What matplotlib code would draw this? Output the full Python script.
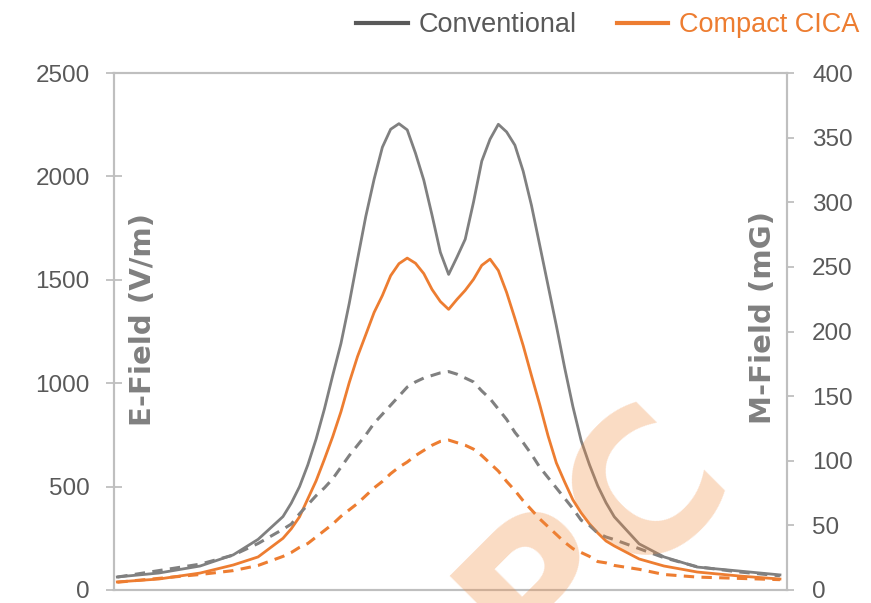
import matplotlib.pyplot as plt
from matplotlib.lines import Line2D

# distance along the profile (m), no labels shown on the x axis
dist = [-40, -35, -30, -26, -23] + list(range(-20, 21)) + [23, 26, 30, 35, 40]

# E-field (V/m), left axis
e_conventional = [63, 82, 116, 170, 245,
                  355, 420, 500, 605, 730, 875, 1037, 1192, 1386, 1599,
                  1807, 1986, 2141, 2228, 2255, 2225, 2112, 1982, 1812, 1633,
                  1526,
                  1609, 1696, 1875, 2074, 2180, 2252, 2215, 2151, 2025, 1860,
                  1667, 1473, 1279, 1076, 887, 722, 606, 504, 422, 354,
                  223, 160, 111, 92, 73]
e_compact = [39, 53, 82, 121, 160,
             250, 296, 354, 441, 528, 632, 741, 862, 1003, 1129,
             1235, 1342, 1424, 1520, 1578, 1605, 1580, 1530, 1453, 1395,
             1357,
             1405, 1449, 1502, 1570, 1600, 1545, 1439, 1313, 1182, 1037,
             896, 746, 615, 523, 436, 373, 320, 276, 237, 213,
             150, 116, 87, 68, 53]

# M-field (mG), right axis
m_conventional = [10, 15, 20, 27, 36,
                  47, 51, 59, 66, 73, 79, 86, 95, 104, 112,
                  120, 129, 136, 143, 150, 157, 161, 164, 166, 168,
                  169,
                  167, 164, 161, 154, 148, 140, 132, 122, 114, 105,
                  95, 87, 79, 71, 63, 54, 50, 44, 41, 39,
                  32, 25, 18, 14, 11]
m_compact = [6, 9, 12, 15, 19,
             26, 29, 33, 36, 41, 46, 51, 57, 62, 67,
             73, 79, 84, 90, 95, 99, 104, 108, 112, 115,
             116,
             114, 112, 109, 104, 98, 92, 84, 77, 69, 62,
             55, 49, 43, 37, 32, 29, 26, 22, 21, 19,
             16, 12, 10, 9, 8]

e_ticks = [0, 500, 1000, 1500, 2000, 2500]
m_ticks = [0, 50, 100, 150, 200, 250, 300, 350, 400]
series_names = ['Conventional', 'Compact CICA']

GRAY = '#808080'
DARK = '#595959'
ORANGE = '#ED7D31'
SPINE = '#BFBFBF'
num_font = ['Liberation Sans', 'DejaVu Sans']

fig = plt.figure(figsize=(8.71, 6.03), dpi=100)
ax = fig.add_axes([114 / 871, 1 - 590 / 603, (787 - 114) / 871, (590 - 73) / 603])
ax2 = ax.twinx()

ax.plot(dist, e_conventional, color=GRAY, lw=2.0)
ax.plot(dist, e_compact, color=ORANGE, lw=2.0)
ax2.plot(dist, m_conventional, color=GRAY, lw=2.2, dashes=(3.4, 2.4))
ax2.plot(dist, m_compact, color=ORANGE, lw=2.2, dashes=(3.4, 2.4))

ax.set_xlim(-40.4, 40.85)
ax.set_ylim(0, 2500)
ax2.set_ylim(0, 400)
ax.set_yticks(e_ticks)
ax2.set_yticks(m_ticks)
ax.set_xticks([])

for a in (ax, ax2):
    for s in a.spines.values():
        s.set_color(SPINE)
        s.set_linewidth(1.5)

ax.tick_params(axis='y', direction='inout', length=11, width=1.3, color=SPINE,
               labelcolor=DARK, labelsize=17.5, pad=12)
ax2.tick_params(axis='y', direction='out', length=5, width=1.3, color=SPINE,
                labelcolor=DARK, labelsize=17.5, pad=13)
for lab in ax.get_yticklabels() + ax2.get_yticklabels():
    lab.set_family(num_font)

# axis titles sit inside the plot area
fig.text(143 / 871, 1 - 320 / 603, 'E-Field (V/m)', rotation=90, ha='center', va='center',
         fontsize=21, fontweight='bold', color=GRAY)
fig.text(763 / 871, 1 - 317 / 603, 'M-Field (mG)', rotation=90, ha='center', va='center',
         fontsize=21, fontweight='bold', color=GRAY)

# legend at the top
handles = [Line2D([], [], color=DARK, lw=3), Line2D([], [], color=ORANGE, lw=3)]
leg = fig.legend(handles, series_names, loc='center right',
                 bbox_to_anchor=(859 / 871, 1 - 25 / 603),
                 ncol=2, frameon=False, handlelength=1.9, handletextpad=0.38,
                 columnspacing=1.5, borderaxespad=0, borderpad=0,
                 prop={'family': num_font, 'size': 19.5})
for txt, c in zip(leg.get_texts(), [DARK, ORANGE]):
    txt.set_color(c)

# faint watermark across the bottom
fig.text(543 / 871, 1 - 590 / 603, 'RPC', rotation=45, ha='center', va='center',
         rotation_mode='anchor', fontsize=140, fontweight='bold', color='#F08A3C',
         alpha=0.3, zorder=10)

fig.savefig('out.png', dpi=100)
